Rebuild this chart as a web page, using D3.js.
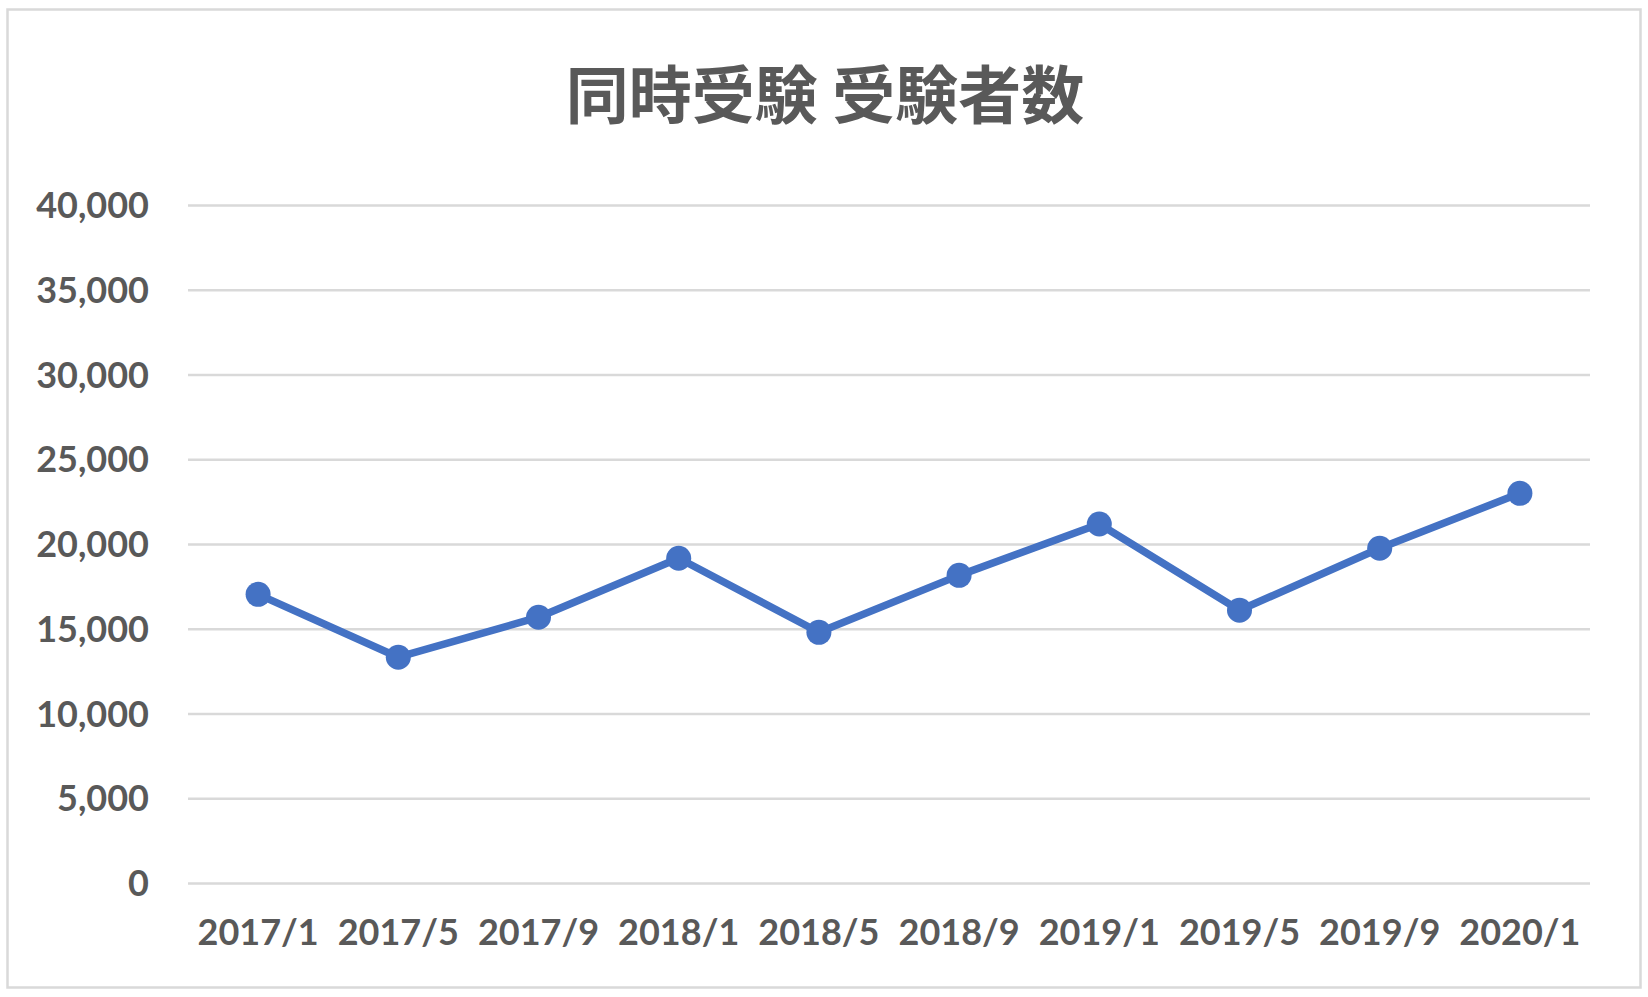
<!DOCTYPE html>
<html>
<head>
<meta charset="utf-8">
<script src="https://cdn.jsdelivr.net/npm/d3@7"></script>
<style>
  body { margin: 0; background: #fff; }
  .tick text { font-family: Lato, "Noto Sans", sans-serif; font-weight: bold; fill: #595959; }
</style>
</head>
<body>
<div id="chart"></div>
<script>
const title = '同時受験 受験者数'
const months = ['2017/1', '2017/5', '2017/9', '2018/1', '2018/5', '2018/9', '2019/1', '2019/5', '2019/9', '2020/1']
const examinees = [17030, 13320, 15680, 19160, 14790, 18150, 21180, 16090, 19750, 22990]
const yTicks = [0, 5000, 10000, 15000, 20000, 25000, 30000, 35000, 40000]

const W = 1648, H = 997
const margin = {top: 205, right: 58, bottom: 114, left: 188}
const w = W - margin.left - margin.right
const h = H - margin.top - margin.bottom

const svg = d3.select('#chart').append('svg')
  .attr('width', W)
  .attr('height', H)

// chart frame
svg.append('rect')
  .attr('x', 7.5).attr('y', 9.5)
  .attr('width', 1633).attr('height', 978)
  .attr('fill', '#fff')
  .attr('stroke', '#d9d9d9')
  .attr('stroke-width', 2.5)

svg.append('text')
  .attr('x', 825).attr('y', 118)
  .attr('text-anchor', 'middle')
  .attr('font-family', '"Noto Sans CJK JP", sans-serif')
  .attr('font-weight', 'bold')
  .attr('font-size', 63)
  .attr('fill', '#595959')
  .text(title)

const g = svg.append('g')
  .attr('transform', `translate(${margin.left},${margin.top})`)

const x = d3.scaleBand().domain(months).range([0, w])
const y = d3.scaleLinear().domain([0, 40000]).range([h, 0])

// y axis + gridlines
const yAxis = g.append('g')
  .call(d3.axisLeft(y).tickValues(yTicks).tickFormat(d3.format(',')).tickSize(-w).tickPadding(39))
yAxis.select('.domain').remove()
yAxis.selectAll('.tick line').attr('stroke', '#d9d9d9').attr('stroke-width', 2.5)
yAxis.selectAll('.tick text').attr('font-size', 36).attr('dy', '0.35em')

// x axis labels
const xAxis = g.append('g')
  .attr('transform', `translate(0,${h})`)
  .call(d3.axisBottom(x).tickSize(0).tickPadding(36))
xAxis.select('.domain').remove()
xAxis.selectAll('.tick text').attr('font-size', 36)

const line = d3.line()
  .x(d => x(d.m) + x.bandwidth() / 2)
  .y(d => y(d.v))

const pts = months.map((m, i) => ({m, v: examinees[i]}))

g.append('path')
  .datum(pts)
  .attr('d', line)
  .attr('fill', 'none')
  .attr('stroke', '#4472c4')
  .attr('stroke-width', 7.5)
  .attr('stroke-linejoin', 'round')

g.selectAll('circle')
  .data(pts)
  .join('circle')
  .attr('cx', d => x(d.m) + x.bandwidth() / 2)
  .attr('cy', d => y(d.v))
  .attr('r', 12.5)
  .attr('fill', '#4472c4')
</script>
</body>
</html>
